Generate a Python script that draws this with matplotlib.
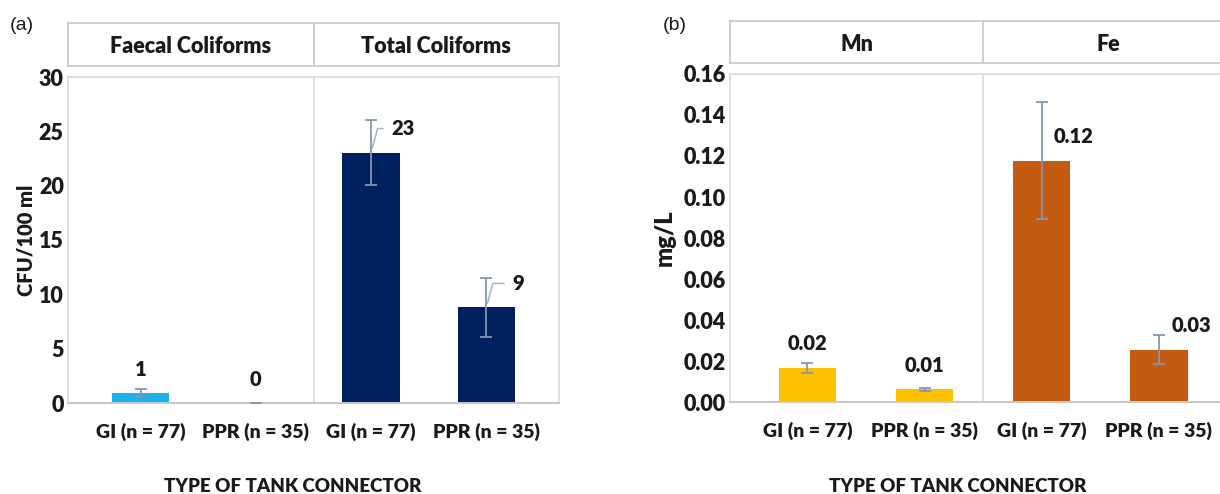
import matplotlib.pyplot as plt
import numpy as np

plt.rcParams['font.family'] = ['Lato', 'DejaVu Sans']
BW = 'heavy'

tank = ['GI (n = 77)', 'PPR (n = 35)']

coli_groups = ['Faecal Coliforms', 'Total Coliforms']
coli_mean = [0.9, 0.0, 23.05, 8.8]
coli_err = [0.37, 0.0, 2.95, 2.7]
coli_labels = ['1', '0', '23', '9']
coli_colors = ['#1CB0EC', '#1CB0EC', '#002060', '#002060']
coli_shift = [False, False, True, True]
coli_leader = [False, False, True, True]

metal_groups = ['Mn', 'Fe']
metal_mean = [0.0167, 0.0062, 0.1177, 0.0255]
metal_err = [0.0025, 0.0006, 0.0285, 0.0072]
metal_labels = ['0.02', '0.01', '0.12', '0.03']
metal_colors = ['#FFC000', '#FFC000', '#C55A11', '#C55A11']
metal_shift = [False, False, True, True]
metal_leader = [False, False, False, False]

W, H = 1220, 494
fig = plt.figure(figsize=(W / 100, H / 100), dpi=100)


def px(x0, y0, x1, y1):
    return [x0 / W, 1 - y1 / H, (x1 - x0) / W, (y1 - y0) / H]


def panel(rect, hrect, xl, groups, mean, err, labels, colors, shift, leader,
          ylim, yticks, yfmt, width):
    ax = fig.add_axes(px(*rect))
    x = np.arange(len(mean))
    ax.bar(x, mean, width=width, color=colors, zorder=2)
    ax.errorbar(x, mean, yerr=err, fmt='none', ecolor='#8496B0',
                elinewidth=1.3, capsize=4, capthick=1.3, zorder=3)
    for i in range(len(mean)):
        dx = 32 if shift[i] else 0
        if leader[i]:
            ax.annotate(labels[i], xy=(x[i], mean[i]), xytext=(dx, 24),
                        textcoords='offset pixels', ha='center', va='center',
                        fontsize=14.5, fontweight=BW, color='#1a1a1a',
                        arrowprops=dict(arrowstyle='-', color='#A6B4CC',
                                        lw=1.1, relpos=(0, 0.5),
                                        connectionstyle='angle,angleA=180,angleB=75,rad=0',
                                        shrinkA=4, shrinkB=3))
        else:
            ax.annotate(labels[i], xy=(x[i], mean[i]), xytext=(dx, 24),
                        textcoords='offset pixels', ha='center', va='center',
                        fontsize=14.5, fontweight=BW, color='#1a1a1a')
    ax.axvline(1.5, color='#D9D9D9', lw=1.2, zorder=1)
    ax.set_xlim(*xl)
    ax.set_ylim(*ylim)
    ax.set_yticks(yticks)
    ax.set_yticklabels([yfmt.format(v) for v in yticks])
    ax.set_xticks(x)
    ax.set_xticklabels(tank * 2)
    for s in ['left', 'top', 'right']:
        ax.spines[s].set_color('#D9D9D9')
        ax.spines[s].set_linewidth(1.2)
    ax.spines['bottom'].set_color('#C8C8C8')
    ax.spines['bottom'].set_linewidth(1.4)
    ax.tick_params(axis='both', length=0)
    ax.tick_params(axis='x', pad=14, labelsize=14)
    ax.tick_params(axis='y', pad=3, labelsize=15.5)
    for t in ax.get_xticklabels() + ax.get_yticklabels():
        t.set_fontweight(BW)
        t.set_color('#1a1a1a')

    hax = fig.add_axes(px(*hrect))
    hax.set_xlim(*xl)
    hax.set_ylim(0, 1)
    hax.set_xticks([])
    hax.set_yticks([])
    for s in hax.spines.values():
        s.set_color('#C8C8C8')
        s.set_linewidth(1.2)
    hax.axvline(1.5, color='#C8C8C8', lw=1.2)
    hax.text((xl[0] + 1.5) / 2, 0.45, groups[0], ha='center', va='center',
             fontsize=15.5, fontweight=BW, color='#1a1a1a')
    hax.text((xl[1] + 1.5) / 2, 0.45, groups[1], ha='center', va='center',
             fontsize=15.5, fontweight=BW, color='#1a1a1a')
    return ax


panel((68, 77, 559, 403), (68, 23, 559, 66), (-0.63, 3.63), coli_groups,
      coli_mean, coli_err, coli_labels, coli_colors, coli_shift, coli_leader,
      (0, 30), np.arange(0, 31, 5), '{:.0f}', 0.5)
panel((730, 74, 1234, 402), (730, 21, 1234, 63), (-0.66, 3.64), metal_groups,
      metal_mean, metal_err, metal_labels, metal_colors, metal_shift, metal_leader,
      (0, 0.16), np.arange(0, 0.161, 0.02), '{:.2f}', 0.49)

fig.text(26 / W, 1 - 240 / H, 'CFU/100 ml', rotation=90, ha='center', va='center',
         fontsize=14.5, fontweight=BW, color='#1a1a1a')
fig.text(665 / W, 1 - 238 / H, 'mg/L', rotation=90, ha='center', va='center',
         fontsize=17, fontweight=BW, color='#1a1a1a')
fig.text(293 / W, 1 - 486 / H, 'TYPE OF TANK CONNECTOR', ha='center', va='center',
         fontsize=13.5, fontweight=BW, color='#1a1a1a')
fig.text(958 / W, 1 - 486 / H, 'TYPE OF TANK CONNECTOR', ha='center', va='center',
         fontsize=13.5, fontweight=BW, color='#1a1a1a')
fig.text(10 / W, 1 - 25 / H, '(a)', ha='left', va='center', fontsize=14,
         family='Liberation Sans', color='#1a1a1a')
fig.text(663 / W, 1 - 25 / H, '(b)', ha='left', va='center', fontsize=14,
         family='Liberation Sans', color='#1a1a1a')

fig.savefig('out.png', dpi=100, facecolor='white')
